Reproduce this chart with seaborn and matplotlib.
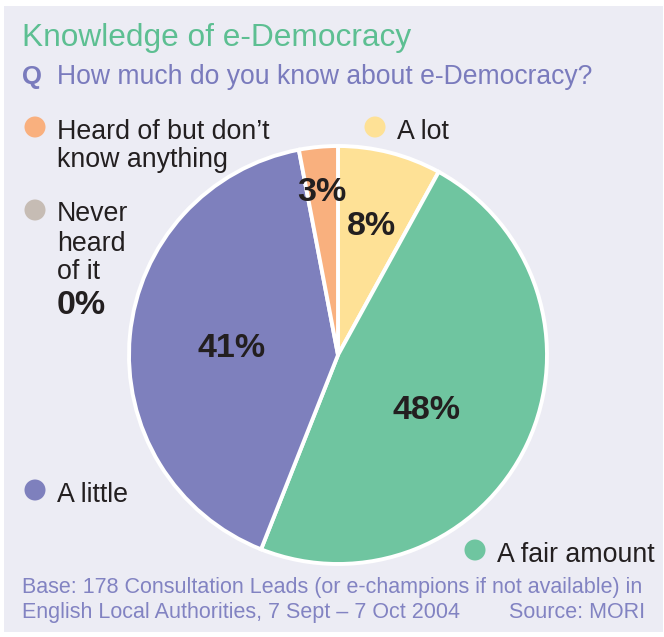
import matplotlib
matplotlib.use("Agg")
import matplotlib.pyplot as plt
from matplotlib.patches import Rectangle, Circle
import numpy as np
import seaborn as sns

sns.set_theme(style="white")
plt.rcParams["font.family"] = ["Liberation Sans", "DejaVu Sans"]

# Survey responses (share of respondents, %)
categories = ["A lot", "A fair amount", "A little", "Heard of but don\u2019t know anything", "Never heard of it"]
shares = [8, 48, 41, 3, 0]
pct_labels = ["8%", "48%", "41%", "3%", "0%"]
colors = ["#fee196", "#6fc5a0", "#7e80bd", "#f9b07e", "#c6bcb4"]

title = "Knowledge of e-Democracy"
question = "How much do you know about e-Democracy?"
footer_1 = "Base: 178 Consultation Leads (or e-champions if not available) in"
footer_2 = "English Local Authorities, 7 Sept \u2013 7 Oct 2004"
source = "Source: MORI"

W, H = 664, 637
fig = plt.figure(figsize=(W / 100, H / 100), dpi=100)
fig.patch.set_facecolor("white")

# Full-figure overlay in pixel units for panel, text and legend dots
bg = fig.add_axes([0, 0, 1, 1], zorder=0)
bg.set_xlim(0, W)
bg.set_ylim(H, 0)
bg.axis("off")
bg.add_patch(Rectangle((4, 6), 659, 626, facecolor="#ececf4", edgecolor="none"))

title_green = "#5dbf92"
q_purple = "#7a7bbd"
ink = "#231f20"

bg.text(22, 46, title, fontsize=22.8, color=title_green, va="baseline", ha="left")
bg.text(22, 84, "Q", fontsize=18.5, color=q_purple, weight="bold", va="baseline")
bg.text(57, 84, question, fontsize=19.1, color=q_purple, va="baseline")

# Pie
cx, cy, r = 338, 355, 209
pax = fig.add_axes([(cx - r) / W, (H - cy - r) / H, 2 * r / W, 2 * r / H], zorder=1)
wedges, _ = pax.pie(shares[:4], colors=colors[:4], startangle=90, counterclock=False,
                    radius=1, wedgeprops=dict(edgecolor="white", linewidth=2.8))
pax.set_aspect("equal")
pax.axis("off")
pax.set_xlim(-1, 1)
pax.set_ylim(-1, 1)

# Percentage labels: radial distance and small angular nudge per slice
label_radius = [0.65, 0.49, 0.51, 0.80]
label_nudge = [0, -5, 0, 0]
for w, lab, rr, dn in zip(wedges, pct_labels[:4], label_radius, label_nudge):
    ang = np.deg2rad((w.theta1 + w.theta2) / 2 + dn)
    pax.text(rr * np.cos(ang), rr * np.sin(ang), lab, ha="center", va="center_baseline",
             fontsize=24.5, weight="bold", color=ink)

# Legend dots and names
def dot(x, y, c):
    bg.add_patch(Circle((x, y), 10.5, facecolor=c, edgecolor="none"))

lab_fs = 19.3
dot(35, 127, colors[3])
bg.text(57, 139, "Heard of but don\u2019t", fontsize=lab_fs, color=ink, va="baseline")
bg.text(57, 167, "know anything", fontsize=lab_fs, color=ink, va="baseline")

dot(375, 127, colors[0])
bg.text(397, 139, categories[0], fontsize=lab_fs, color=ink, va="baseline")

dot(35, 210, colors[4])
for txt, yb in zip(["Never", "heard", "of it"], [221, 251, 279]):
    bg.text(57, yb, txt, fontsize=lab_fs, color=ink, va="baseline")
bg.text(57, 314, pct_labels[4], fontsize=24.5, weight="bold", color=ink, va="baseline")

dot(35, 490, colors[2])
bg.text(57, 502, categories[2], fontsize=lab_fs, color=ink, va="baseline")

dot(475, 550, colors[1])
bg.text(497, 562, categories[1], fontsize=lab_fs, color=ink, va="baseline")

foot_c = "#8283c2"
bg.text(22, 593, footer_1, fontsize=15.5, color=foot_c, va="baseline")
bg.text(22, 618, footer_2, fontsize=15.5, color=foot_c, va="baseline")
bg.text(645, 618, source, fontsize=15.5, color=foot_c, va="baseline", ha="right")

fig.savefig("out.png", dpi=100, facecolor="white")
